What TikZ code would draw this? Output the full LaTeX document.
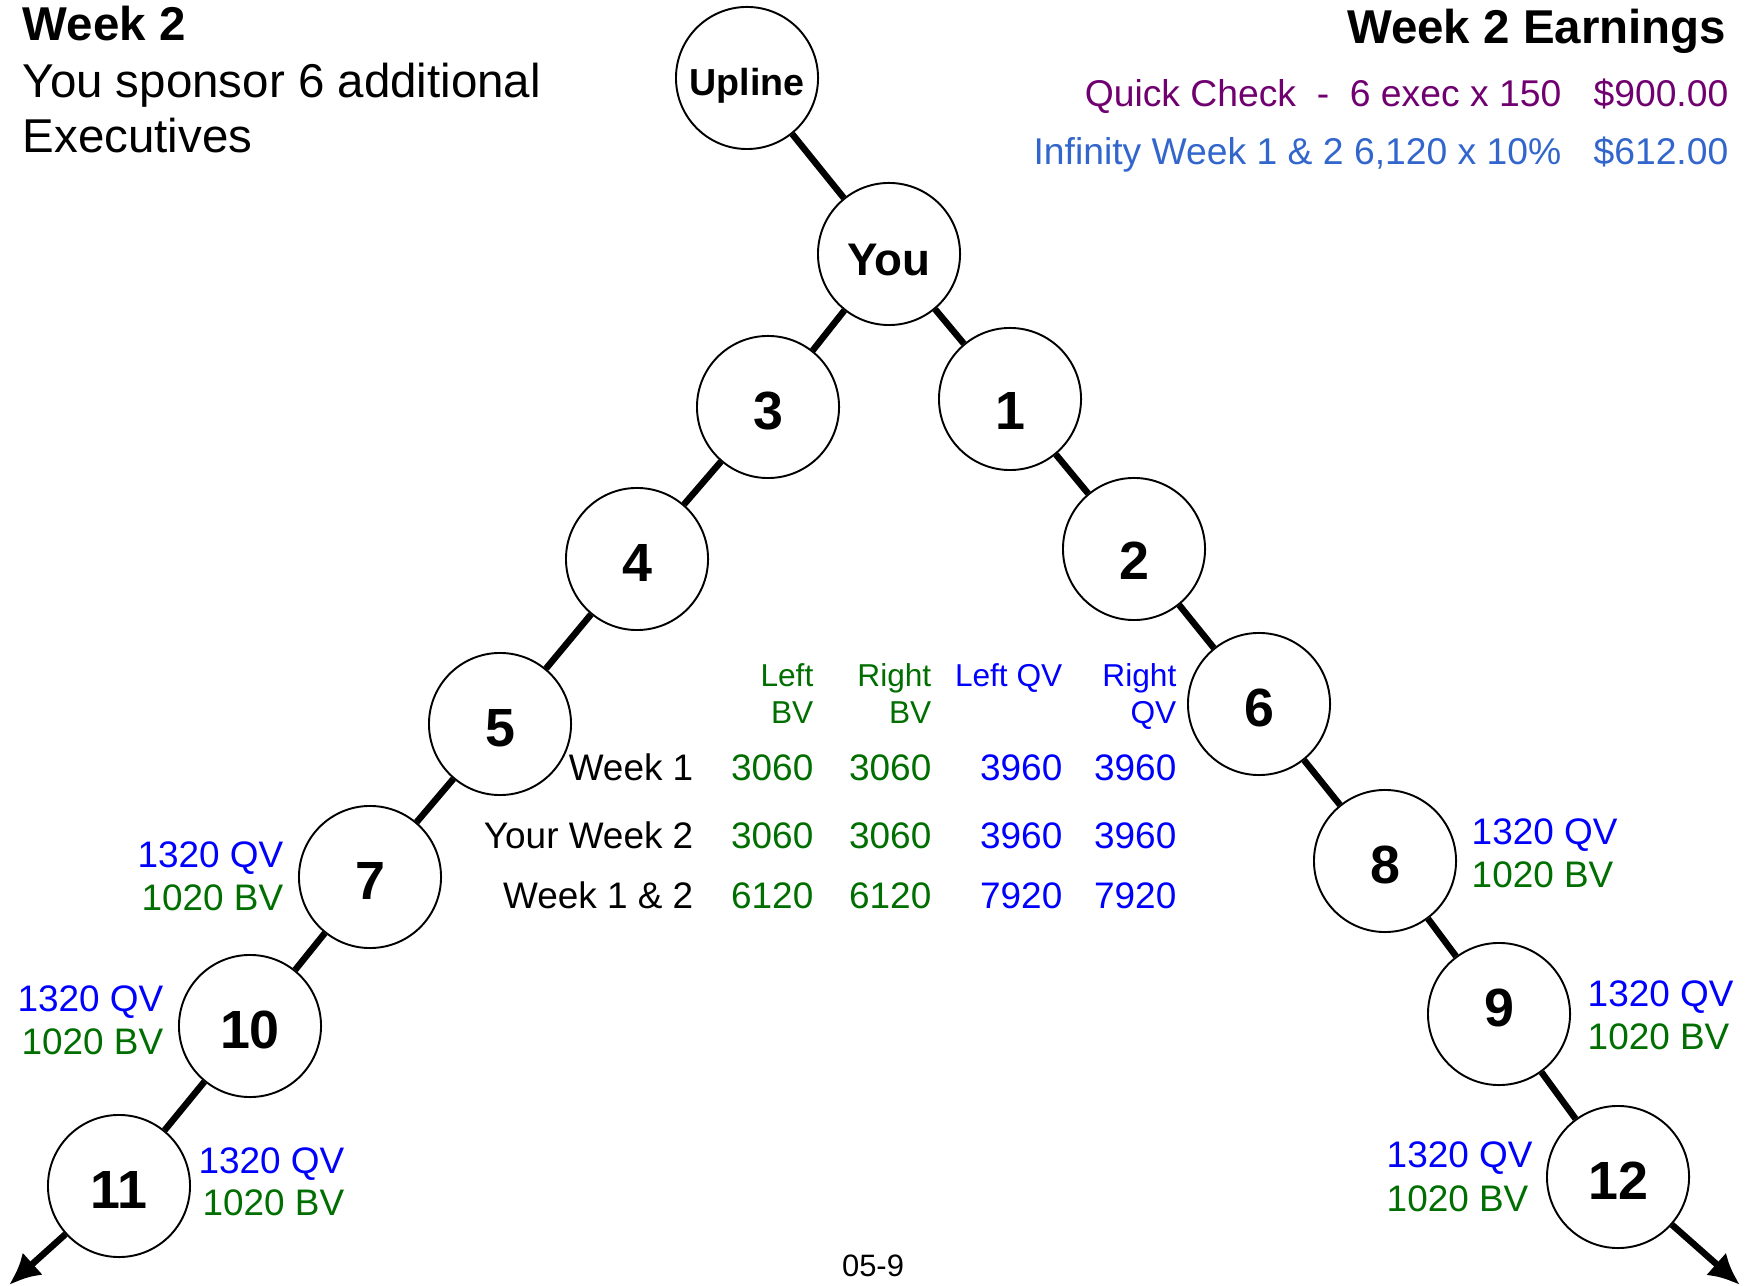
\documentclass[tikz,border=0pt]{standalone}
\usepackage{fontspec}
\setmainfont{Liberation Sans}
\usetikzlibrary{arrows.meta}
\definecolor{qvblue}{RGB}{0,0,255}
\definecolor{bvgreen}{RGB}{0,110,0}
\definecolor{chkpurple}{RGB}{112,0,112}
\definecolor{infblue}{RGB}{51,102,204}

\begin{document}
\begin{tikzpicture}[x=0.01cm,y=-0.01cm,
	member/.style={draw,circle,line width=0.55pt,minimum size=1.42cm,inner sep=0pt,fill=white,text height=0.44cm,text depth=0pt,font=\fontsize{15.3}{18}\selectfont\bfseries},
	lowtext/.style={text height=0.6cm},
	hightext/.style={text height=0.24cm},
	link/.style={line width=1.85pt},
	title/.style={inner sep=0pt,anchor=base west,font=\fontsize{13.5}{16}\selectfont},
	earn/.style={inner sep=0pt,anchor=base east,font=\fontsize{10.6}{12}\selectfont},
	qv/.style={inner sep=0pt,text=qvblue,font=\fontsize{10.5}{12}\selectfont},
	bv/.style={inner sep=0pt,text=bvgreen,font=\fontsize{10.5}{12}\selectfont},
	cell/.style={inner sep=0pt,anchor=base east,font=\fontsize{10.5}{12}\selectfont},
	head/.style={inner sep=0pt,anchor=base east,font=\fontsize{9}{11}\selectfont}]
			\useasboundingbox (0,0) rectangle (1749,1286);
			\node[title,font=\fontsize{13.5}{16}\selectfont\bfseries] (wk) at (22,41) {Week 2};
			\node[title] (spons) at (22,98) {You sponsor 6 additional};
			\node[title] (execs) at (22,153) {Executives};
			\node[earn,font=\fontsize{13.5}{16}\selectfont\bfseries] (earnings) at (1727,44) {Week 2 Earnings};
			\node[earn,text=chkpurple] (qcheck) at (1562,107) {Quick Check\ \ -\ \ 6 exec x 150};
			\node[earn,text=chkpurple] (qpay) at (1729,107) {\$900.00};
			\node[earn,text=infblue] (infin) at (1562,165) {Infinity Week 1 \& 2 6,120 x 10\%};
			\node[earn,text=infblue] (ipay) at (1729,165) {\$612.00};
			\node[member,text height=0.36cm,font=\fontsize{10.7}{12}\selectfont\bfseries] (upline) at (747,78) {Upline};
			\node[member,text height=0.42cm,font=\fontsize{13}{15}\selectfont\bfseries] (you) at (889,254) {You};
			\node[member] (n3) at (768,407) {3};
			\node[member,lowtext] (n1) at (1010,399) {1};
			\node[member] (n4) at (637,559) {4};
			\node[member,lowtext] (n2) at (1134,549) {2};
			\node[member] (n5) at (500,724) {5};
			\node[member] (n6) at (1259,704) {6};
			\node[member] (n7) at (370,877) {7};
			\node[member] (n8) at (1385,861) {8};
			\node[member] (n10) at (250,1026) {10};
			\node[member,hightext] (n9) at (1499,1014) {9};
			\node[member] (n11) at (119,1186) {11};
			\node[member] (n12) at (1618,1177) {12};
			\coordinate (leftend) at (9,1285);
			\coordinate (rightend) at (1740,1285);
			\draw[link] (upline) -- (you);
			\draw[link] (you) -- (n3);
			\draw[link] (you) -- (n1);
			\draw[link] (n3) -- (n4);
			\draw[link] (n4) -- (n5);
			\draw[link] (n5) -- (n7);
			\draw[link] (n7) -- (n10);
			\draw[link] (n10) -- (n11);
			\draw[link] (n1) -- (n2);
			\draw[link] (n2) -- (n6);
			\draw[link] (n6) -- (n8);
			\draw[link] (n8) -- (n9);
			\draw[link] (n9) -- (n12);
			\draw[link,-{Latex[length=9pt,width=8.5pt]}] (n11) -- (leftend);
			\draw[link,-{Latex[length=9pt,width=8.5pt]}] (n12) -- (rightend);
			\node[qv,anchor=base east] (qv7) at (284,867) {1320 QV};
			\node[bv,anchor=base east] (bv7) at (284,910) {1020 BV};
			\node[qv,anchor=base east] (qv10) at (164,1011) {1320 QV};
			\node[bv,anchor=base east] (bv10) at (164,1054) {1020 BV};
			\node[qv,anchor=base east] (qv11) at (345,1173) {1320 QV};
			\node[bv,anchor=base east] (bv11) at (345,1215) {1020 BV};
			\node[qv,anchor=base west] (qv8) at (1471,844) {1320 QV};
			\node[bv,anchor=base west] (bv8) at (1471,887) {1020 BV};
			\node[qv,anchor=base west] (qv9) at (1587,1006) {1320 QV};
			\node[bv,anchor=base west] (bv9) at (1587,1049) {1020 BV};
			\node[qv,anchor=base west] (qv12) at (1386,1167) {1320 QV};
			\node[bv,anchor=base west] (bv12) at (1386,1211) {1020 BV};
			\node[head,text=bvgreen] (hlbv) at (814,687) {Left};
			\node[head,text=bvgreen] (hlbv2) at (814,724) {BV};
			\node[head,text=bvgreen] (hrbv) at (932,687) {Right};
			\node[head,text=bvgreen] (hrbv2) at (932,724) {BV};
			\node[head,text=qvblue] (hlqv) at (1063,687) {Left QV};
			\node[head,text=qvblue] (hrqv) at (1177,687) {Right};
			\node[head,text=qvblue] (hrqv2) at (1177,724) {QV};
			\node[cell] (rw1) at (694,781) {Week 1};
			\node[cell,text=bvgreen] (lbv1) at (814,781) {3060};
			\node[cell,text=bvgreen] (rbv1) at (932,781) {3060};
			\node[cell,text=qvblue] (lqv1) at (1063,781) {3960};
			\node[cell,text=qvblue] (rqv1) at (1177,781) {3960};
			\node[cell] (rw2) at (694,848) {Your Week 2};
			\node[cell,text=bvgreen] (lbv2) at (814,848) {3060};
			\node[cell,text=bvgreen] (rbv2) at (932,848) {3060};
			\node[cell,text=qvblue] (lqv2) at (1063,848) {3960};
			\node[cell,text=qvblue] (rqv2) at (1177,848) {3960};
			\node[cell] (rw12) at (694,908) {Week 1 \& 2};
			\node[cell,text=bvgreen] (lbv12) at (814,908) {6120};
			\node[cell,text=bvgreen] (rbv12) at (932,908) {6120};
			\node[cell,text=qvblue] (lqv12) at (1063,908) {7920};
			\node[cell,text=qvblue] (rqv12) at (1177,908) {7920};
			\node[inner sep=0pt,anchor=base,font=\fontsize{8.8}{10}\selectfont] (pageno) at (873,1276) {05-9};
\end{tikzpicture}
\end{document}
